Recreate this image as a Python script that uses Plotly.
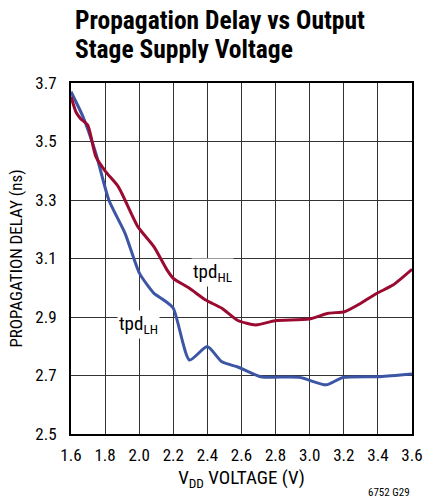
import plotly.graph_objects as go

# tpd HL (red) and tpd LH (blue)
hl_vdd = [1.60, 1.63, 1.655, 1.698, 1.746, 1.803, 1.878, 1.992, 2.087, 2.163, 2.20,
          2.295, 2.39, 2.485, 2.579, 2.683, 2.797, 2.996, 3.11, 3.204, 3.30, 3.394,
          3.488, 3.60]
hl_delay = [3.653, 3.60, 3.579, 3.556, 3.448, 3.397, 3.345, 3.209, 3.140, 3.061, 3.032,
            2.998, 2.958, 2.930, 2.888, 2.873, 2.887, 2.893, 2.913, 2.918, 2.947, 2.981,
            3.009, 3.063]

lh_vdd = [1.60, 1.670, 1.746, 1.822, 1.917, 2.002, 2.087, 2.144, 2.20, 2.295, 2.399,
          2.485, 2.579, 2.712, 2.939, 3.096, 3.195, 3.412, 3.60]
lh_delay = [3.670, 3.585, 3.459, 3.300, 3.186, 3.049, 2.981, 2.958, 2.930, 2.753, 2.799,
            2.747, 2.729, 2.696, 2.694, 2.668, 2.693, 2.696, 2.705]

x_ticks = [1.6, 1.8, 2.0, 2.2, 2.4, 2.6, 2.8, 3.0, 3.2, 3.4, 3.6]
y_ticks = [2.5, 2.7, 2.9, 3.1, 3.3, 3.5, 3.7]

FONT = "Roboto Condensed, Liberation Sans Narrow, Arial Narrow, Liberation Sans, sans-serif"

# plot area is 351 px tall, its bottom sits at 434 px
def py(pix):
    return (434 - pix) / 351

fig = go.Figure()
fig.add_trace(go.Scatter(x=lh_vdd, y=lh_delay, mode="lines",
                         line=dict(color="#3C55A5", width=3, shape="spline", smoothing=0.6)))
fig.add_trace(go.Scatter(x=hl_vdd, y=hl_delay, mode="lines",
                         line=dict(color="#9B0A30", width=3, shape="spline", smoothing=0.6)))

fig.add_annotation(x=2.432, y=3.052, text="tpd<sub>HL</sub>", showarrow=False,
                   font=dict(family=FONT, size=19, color="black"),
                   bgcolor="white", borderpad=1)
fig.add_annotation(x=1.995, y=2.874, text="tpd<sub>LH</sub>", showarrow=False,
                   font=dict(family=FONT, size=19, color="black"),
                   bgcolor="white", borderpad=1)

fig.add_annotation(x=0.005, y=py(20), xref="paper", yref="paper", yanchor="middle",
                   xanchor="left", showarrow=False,
                   text="<b>Propagation Delay vs Output</b>",
                   font=dict(family=FONT, size=25.5, color="black"))
fig.add_annotation(x=0.005, y=py(49), xref="paper", yref="paper", yanchor="middle",
                   xanchor="left", showarrow=False,
                   text="<b>Stage Supply Voltage</b>",
                   font=dict(family=FONT, size=25.5, color="black"))
fig.add_annotation(x=1.0, y=py(492), xref="paper", yref="paper", yanchor="middle",
                   xanchor="right", showarrow=False,
                   text="6752 G29", font=dict(family=FONT, size=11, color="black"))

fig.update_xaxes(range=[1.6, 3.6], tickvals=x_ticks, ticktext=[f"{v:.1f}" for v in x_ticks],
                 showgrid=True, gridcolor="#333333", gridwidth=1,
                 showline=True, linecolor="black", linewidth=2, mirror=True,
                 ticks="", zeroline=False, ticklabelstandoff=5,
                 tickfont=dict(family=FONT, size=17, color="black"),
                 title=dict(text="V<sub>DD</sub> VOLTAGE (V)", standoff=6,
                            font=dict(family=FONT, size=19, color="black")))
fig.update_yaxes(range=[2.5, 3.7], tickvals=y_ticks, ticktext=[f"{v:.1f}" for v in y_ticks],
                 showgrid=True, gridcolor="#333333", gridwidth=1,
                 showline=True, linecolor="black", linewidth=2, mirror=True,
                 ticks="", zeroline=False, ticklabelstandoff=9,
                 tickfont=dict(family=FONT, size=17, color="black"),
                 title=dict(text="PROPAGATION DELAY (ns)", standoff=8,
                            font=dict(family=FONT, size=17, color="black")))

fig.update_layout(width=435, height=501, showlegend=False,
                  margin=dict(l=71, r=12, t=83, b=67),
                  paper_bgcolor="white", plot_bgcolor="white")

fig.write_html("out.html", config={"displayModeBar": False},
               post_script="document.body.style.margin='0';")
